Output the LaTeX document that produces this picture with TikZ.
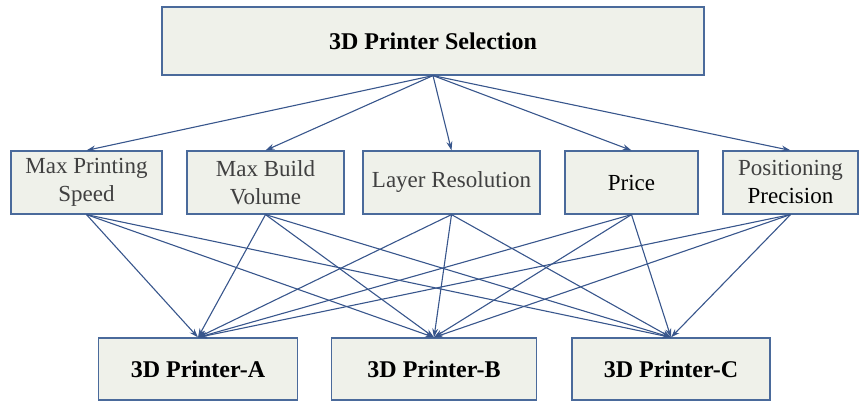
\documentclass[tikz,border=0pt]{standalone}
\usepackage{fontspec}
\setmainfont{LiberationSerif}[Extension=.ttf, UprightFont=*-Regular, BoldFont=*-Bold]
\usetikzlibrary{arrows.meta}
\definecolor{boxfill}{RGB}{239,241,234}
\definecolor{boxline}{RGB}{74,106,155}
\definecolor{arrowblue}{RGB}{56,86,140}
\definecolor{labelgray}{RGB}{64,64,64}
\tikzset{
  critbox/.style={draw=boxline, fill=boxfill, line width=1.2pt, align=center, inner sep=0pt,
    font=\fontsize{23}{28}\selectfont},
  goalbox/.style={critbox, font=\fontsize{24}{28}\selectfont\bfseries},
  link/.style={draw=arrowblue, line width=1.1pt, -{Stealth[length=9pt,width=6pt]}}
}
\begin{document}
\begin{tikzpicture}[x=1pt, y=-1pt]
\useasboundingbox (0,0) rectangle (860,403);

% goal
\node[goalbox, minimum width=542pt, minimum height=68pt] (goal) at (433,41) {3D Printer Selection};

% criteria
\node[critbox, minimum width=151pt, minimum height=63pt, text=labelgray] (speed) at (86.5,182.5) {Max Printing\\Speed};
\node[critbox, minimum width=157pt, minimum height=63pt, text=labelgray] (volume) at (265.5,182.5) {Max Build\\Volume};
\node[critbox, minimum width=177pt, minimum height=63pt, text=labelgray] (layer) at (451.5,182.5) {Layer Resolution};
\node[critbox, minimum width=133pt, minimum height=63pt] (price) at (631.5,182.5) {Price};
\node[critbox, minimum width=135pt, minimum height=63pt] (precision) at (790.5,182.5) {{\color{labelgray}Positioning}\\Precision};

% alternatives
\node[goalbox, minimum width=199pt, minimum height=62pt] (pa) at (198,369) {3D Printer-A};
\node[goalbox, minimum width=205pt, minimum height=62pt] (pb) at (434,369) {3D Printer-B};
\node[goalbox, minimum width=198pt, minimum height=62pt] (pc) at (671,369) {3D Printer-C};

\foreach \c in {speed,volume,layer,price,precision}
  \draw[link] (goal.south) -- (\c.north);
\foreach \c in {speed,volume,layer,price,precision}
  \foreach \p in {pa,pb,pc}
    \draw[link] (\c.south) -- (\p.north);

\end{tikzpicture}
\end{document}
